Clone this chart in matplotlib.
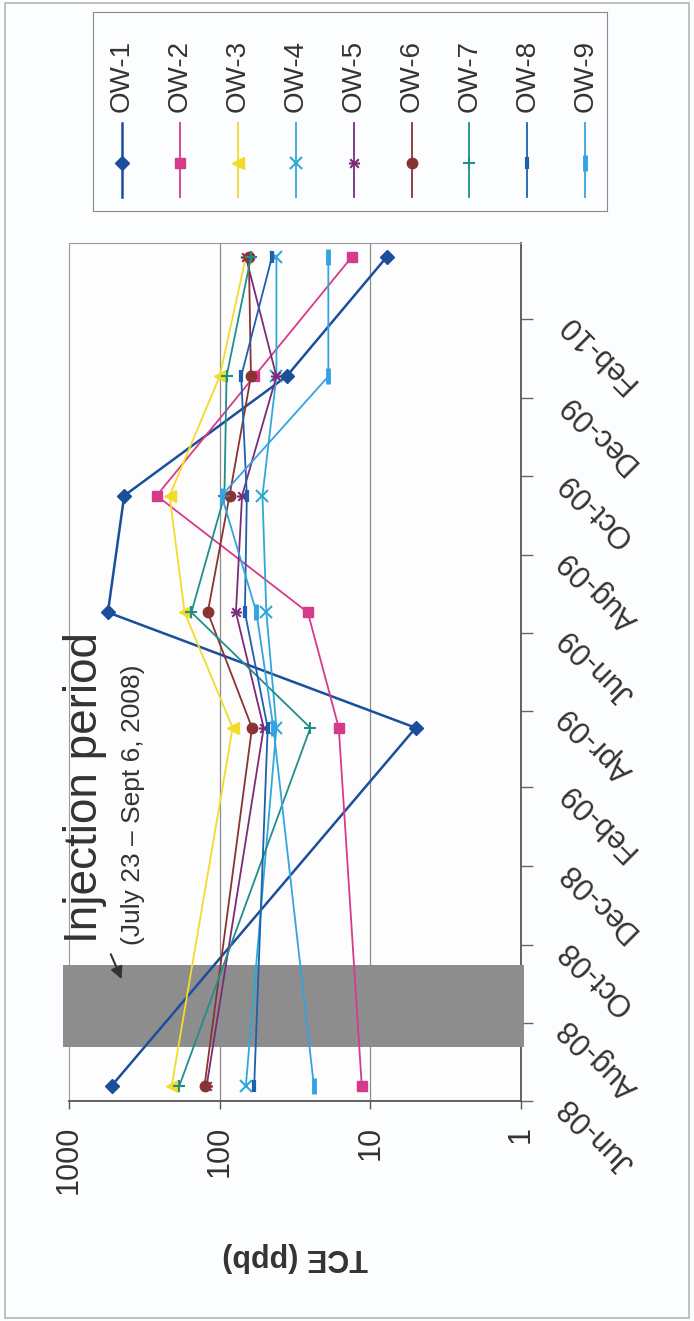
import matplotlib
matplotlib.use('Agg')
import matplotlib.pyplot as plt
from matplotlib.path import Path
from matplotlib.patches import Rectangle
from datetime import datetime

plt.rcParams['font.family'] = ['Liberation Sans', 'DejaVu Sans']

# sampling dates and TCE (ppb) per well
sample_dates = [datetime(2008, 6, 13), datetime(2009, 3, 19), datetime(2009, 6, 17),
                datetime(2009, 9, 16), datetime(2009, 12, 18), datetime(2010, 3, 21)]
wells = ['OW-1', 'OW-2', 'OW-3', 'OW-4', 'OW-5', 'OW-6', 'OW-7', 'OW-8', 'OW-9']
ow1 = [520, 5.0, 552, 430, 36, 7.8]
ow2 = [11.4, 16.2, 26, 262, 59, 13.3]
ow3 = [208, 82, 171, 215, 100, 67]
ow4 = [67, 42, 49, 52, 42, 42]
ow5 = [122, 51, 78, 71, 42, 67]
ow6 = [126, 61, 120, 86, 62, 64]
ow7 = [185, 25, 154, 93, 90, 62]
ow8 = [59, 48, 68, 66, 72, 45]
ow9 = [23.7, 44, 57, 97, 19, 19]
series = [ow1, ow2, ow3, ow4, ow5, ow6, ow7, ow8, ow9]

tick_dates = [datetime(2008, 6, 1), datetime(2008, 8, 1), datetime(2008, 10, 1),
              datetime(2008, 12, 1), datetime(2009, 2, 1), datetime(2009, 4, 1),
              datetime(2009, 6, 1), datetime(2009, 8, 1), datetime(2009, 10, 1),
              datetime(2009, 12, 1), datetime(2010, 2, 1)]
tick_labels = ['Jun-08', 'Aug-08', 'Oct-08', 'Dec-08', 'Feb-09', 'Apr-09',
               'Jun-09', 'Aug-09', 'Oct-09', 'Dec-09', 'Feb-10']
value_ticks = [1000, 100, 10, 1]
value_labels = ['1000', '100', '10', '1']
injection = [datetime(2008, 7, 13), datetime(2008, 9, 15)]

# styles (chart is drawn turned 90 degrees, as in the scan)
star = Path([(-1, -1), (1, 1), (-1, 1), (1, -1), (-1.3, 0), (1.3, 0)],
            [Path.MOVETO, Path.LINETO] * 3)
colors = ['#1b4f9c', '#d63a8a', '#f2dc2a', '#2fa9d6', '#7b2c78',
          '#8a3333', '#1f8f8c', '#1f5fae', '#35a3e0']
markers = ['D', 's', '<', 'x', star, 'o', '+', '|', '|']
msizes = [7, 7.5, 8, 8, 8, 7.5, 9, 8, 11]
mews = [1, 1, 1, 1.5, 1.5, 1, 1.5, 3, 3.5]
lws = [1.8, 1.3, 1.3, 1.3, 1.3, 1.3, 1.3, 1.3, 1.3]

W, H = 694, 1321
fig = plt.figure(figsize=(W / 100, H / 100), dpi=100)
fig.patch.set_facecolor('#fcfdfe')
fig.patches.append(Rectangle((5 / W, 3 / H), 684 / W, 1315 / H, transform=fig.transFigure,
                             fill=False, ec='#b5b5b5', lw=1.2))

ax = fig.add_axes([69 / W, (H - 1101) / H, 452 / W, 858 / H])
ax.set_facecolor('#fdfdfe')
ax.set_xscale('log')
ax.set_xlim(1000, 1)
ax.set_ylim(datetime(2008, 6, 1), datetime(2010, 4, 1))

for v in (100, 10):
    ax.axvline(v, color='#8c8c8c', lw=0.9, zorder=1)

ax.axhspan(injection[0], injection[1], xmin=-0.013, xmax=1.006, color='#8d8d8d',
           clip_on=False, zorder=2.6, lw=0)

for i, vals in enumerate(series):
    ax.plot(vals, sample_dates, color=colors[i], lw=lws[i], marker=markers[i],
            ms=msizes[i], mew=mews[i], mec=colors[i], mfc=colors[i], zorder=3 + i * 0.01)

ax.set_xticks(value_ticks)
ax.set_xticklabels(value_labels)
ax.minorticks_off()
ax.xaxis.set_minor_locator(matplotlib.ticker.NullLocator())
ax.tick_params(axis='x', direction='out', length=6, width=1, pad=12, labelsize=22,
               labelrotation=90, colors='#555555', labelcolor='#333333')
plt.setp(ax.get_xticklabels(), ha='center', va='top')

ax.yaxis.tick_right()
ax.set_yticks(tick_dates)
ax.set_yticklabels(tick_labels)
ax.tick_params(axis='y', direction='out', length=8.5, width=1, pad=22, labelsize=22,
               colors='#666666', labelcolor='#333333')
plt.setp(ax.get_yticklabels(), rotation=135, rotation_mode='anchor', ha='right', va='center')

for s in ('top', 'left'):
    ax.spines[s].set_color('#9a9a9a')
for s in ('bottom', 'right'):
    ax.spines[s].set_color('#555555')
    ax.spines[s].set_linewidth(1.3)

ax.set_xlabel('TCE (ppb)', rotation=180, fontsize=22, fontweight='bold',
              color='#333333', labelpad=34)

ax.text(0.062, 0.184, 'Injection period', transform=ax.transAxes, rotation=90,
        rotation_mode='anchor', ha='left', va='baseline', fontsize=33, color='#333333')
ax.text(0.156, 0.182, '(July 23 \u2013 Sept 6, 2008)', transform=ax.transAxes, rotation=90,
        rotation_mode='anchor', ha='left', va='baseline', fontsize=19, color='#333333')
ax.annotate('', xy=(0.119, 0.139), xytext=(0.090, 0.174), xycoords='axes fraction',
            arrowprops=dict(arrowstyle='-|>', color='#333333', lw=1.5, mutation_scale=18))

# legend, laid out by hand so the entries can be turned like the scan
lax = fig.add_axes([93 / W, (H - 211) / H, 514 / W, 199 / H])
lax.set_xlim(0, 514)
lax.set_ylim(199, 0)
lax.set_xticks([])
lax.set_yticks([])
lax.set_facecolor('#fcfdfe')
for s in lax.spines.values():
    s.set_color('#8a8a8a')
for i, name in enumerate(wells):
    xc = 29 + i * 57.9
    lax.plot([xc, xc], [111, 185], color=colors[i], lw=lws[i])
    lax.plot([xc], [151], color=colors[i], marker=markers[i], ms=msizes[i], mew=mews[i],
             mec=colors[i], mfc=colors[i])
    lax.text(xc, 100, name, rotation=90, rotation_mode='anchor', ha='left', va='center',
             fontsize=20, color='#333333')

fig.savefig('out.png', dpi=100, facecolor=fig.get_facecolor())
